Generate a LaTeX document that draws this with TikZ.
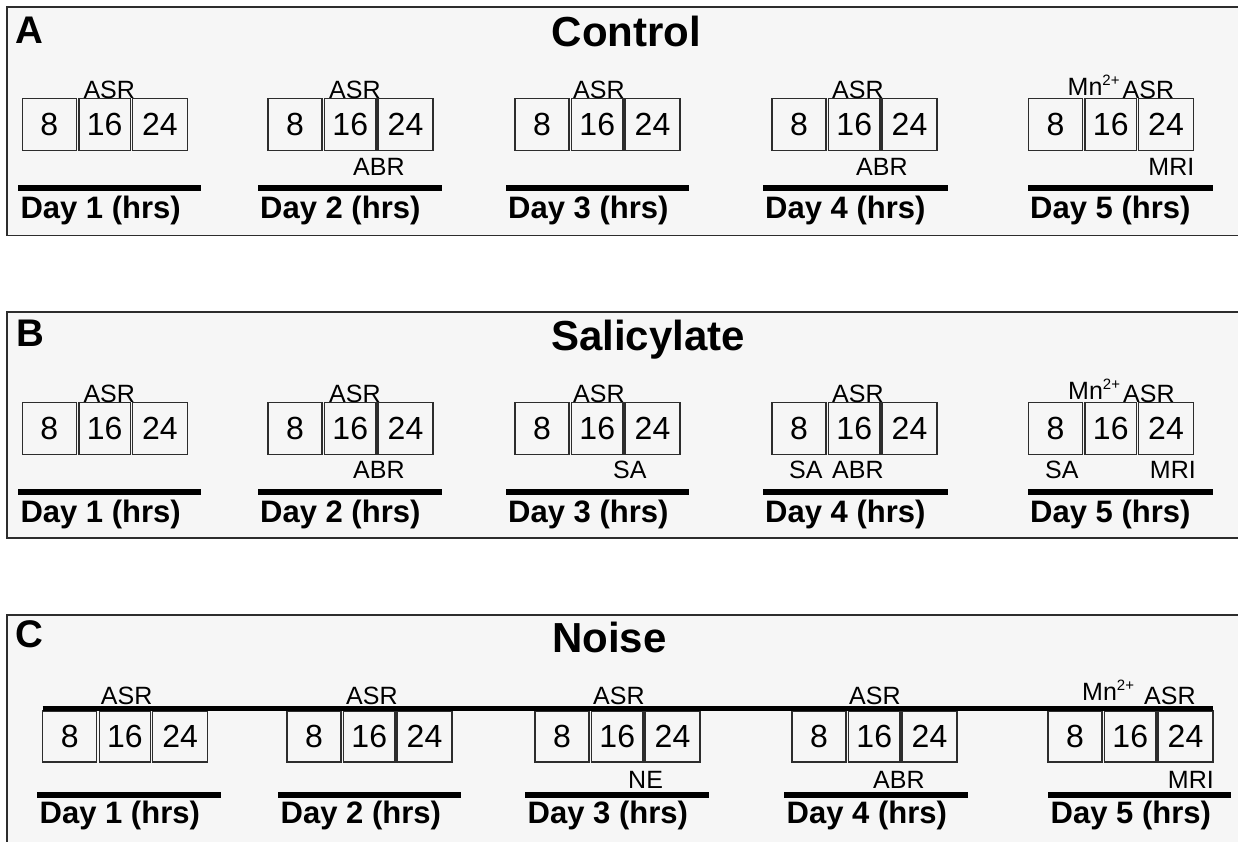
\documentclass[tikz,border=0pt]{standalone}
\usepackage{fontspec}
\setmainfont{Liberation Sans}
\usetikzlibrary{calc}
\definecolor{panelbg}{RGB}{246,246,246}
\definecolor{edge}{RGB}{45,45,45}
\tikzset{
 panel/.style={draw=edge, line width=1.8pt, fill=panelbg},
 hbox/.style={draw=edge, line width=1.4pt, inner sep=0pt, outer sep=0pt, anchor=north west, font=\fontsize{32}{36}\selectfont},
 lab/.style={inner sep=0pt, anchor=base west, font=\fontsize{25}{28}\selectfont},
 labr/.style={lab, anchor=base east},
 dayline/.style={line width=6pt, black},
 noiseline/.style={line width=5pt, black},
 daylab/.style={inner sep=0pt, anchor=base west, font=\fontsize{31}{34}\selectfont\bfseries},
 plabel/.style={inner sep=0pt, anchor=base west, font=\fontsize{38.5}{42}\selectfont\bfseries},
 ptitle/.style={inner sep=0pt, anchor=base west, font=\fontsize{42}{46}\selectfont\bfseries},
}
\newcommand\mnsup{Mn\raisebox{10.5pt}{\fontsize{15}{16}\selectfont 2+}}
\begin{document}
\begin{tikzpicture}[x=1pt,y=-1pt]
\useasboundingbox (0,0) rectangle (1238,841);
\clip (0,0) rectangle (1238,841);
\fill[white] (0,0) rectangle (1238,841);
% panels
\draw[panel] (7.3,7.3) rectangle (1250,235.5);
\draw[panel] (7.3,311.7) rectangle (1250,538.3);
\draw[panel] (7.3,615) rectangle (1250,870);
\node[plabel] (lblA) at (15,43) {A};
\node[plabel] (lblB) at (16.5,346.5) {B};
\node[plabel] (lblC) at (15,647.5) {C};
\node[ptitle] (ttlA) at (551.5,46) {Control};
\node[ptitle] (ttlB) at (551,350.5) {Salicylate};
\node[ptitle] (ttlC) at (552,652) {Noise};
% panel A days
\foreach \id/\xo/\ll/\lr/\dn/\ao in {A1/22.3/18.3/201/1/61, A2/268/258/442/2/61, A3/515/506/689/3/58, A4/772/763/948/4/60, A5/1028.5/1028/1213/5/94}{
  \node[hbox, minimum width=54, minimum height=52.4] (\id-b1) at (\xo,98.3) {8};
  \node[hbox, minimum width=51.5, minimum height=52.4] (\id-b2) at (\xo+56.5,98.3) {16};
  \node[hbox, minimum width=55, minimum height=52.4] (\id-b3) at (\xo+110,98.3) {24};
  \node[lab] (\id-asr) at (\xo+\ao,98.3) {ASR};
  \coordinate (\id-l) at (\ll,187.5);
  \coordinate (\id-r) at (\lr,187.5);
  \draw[dayline] (\id-l) -- (\id-r);
  \node[daylab] (\id-d) at (\ll+2,218.3) {Day \dn{} (hrs)};
}
\node[lab] (A2-abr) at (353,175) {ABR};
\node[lab] (A4-abr) at (856,175) {ABR};
\node[labr] (A5-mri) at (1194.5,175) {MRI};
\node[lab] (A5-mn) at (1067.5,95.5) {\mnsup};
% panel B days
\foreach \id/\xo/\ll/\lr/\dn/\ao in {B1/22.3/18.3/201/1/61, B2/268/258/442/2/61, B3/515/506/689/3/58, B4/772/763/948/4/60, B5/1028.5/1028/1213/5/94.5}{
  \node[hbox, minimum width=54, minimum height=52.4] (\id-b1) at (\xo,402.3) {8};
  \node[hbox, minimum width=51.5, minimum height=52.4] (\id-b2) at (\xo+56.5,402.3) {16};
  \node[hbox, minimum width=55, minimum height=52.4] (\id-b3) at (\xo+110,402.3) {24};
  \node[lab] (\id-asr) at (\xo+\ao,402.3) {ASR};
  \coordinate (\id-l) at (\ll,491.5);
  \coordinate (\id-r) at (\lr,491.5);
  \draw[dayline] (\id-l) -- (\id-r);
  \node[daylab] (\id-d) at (\ll+2,522.3) {Day \dn{} (hrs)};
}
\node[lab] (B2-abr) at (353,478.5) {ABR};
\node[lab] (B3-sa) at (613,478.5) {SA};
\node[lab] (B4-sa) at (789,478.5) {SA};
\node[lab] (B4-abr) at (832,478.5) {ABR};
\node[lab] (B5-sa) at (1045,478.5) {SA};
\node[labr] (B5-mri) at (1196,478.5) {MRI};
\node[lab] (B5-mn) at (1068,399.5) {\mnsup};
% panel C days
\foreach \id/\xo/\ll/\lr/\dn/\ao in {C1/42.7/37/221/1/58, C2/287/278/461/2/59, C3/535/525/709/3/58, C4/792/784/968/4/57, C5/1048/1048/1231/5/96}{
  \node[hbox, minimum width=54, minimum height=51] (\id-b1) at (\xo,711) {8};
  \node[hbox, minimum width=51.5, minimum height=51] (\id-b2) at (\xo+56.5,711) {16};
  \node[hbox, minimum width=55, minimum height=51] (\id-b3) at (\xo+110,711) {24};
  \node[lab] (\id-asr) at (\xo+\ao,704) {ASR};
  \coordinate (\id-l) at (\ll,795);
  \coordinate (\id-r) at (\lr,795);
  \draw[dayline] (\id-l) -- (\id-r);
  \node[daylab] (\id-d) at (\ll+2.5,823) {Day \dn{} (hrs)};
}
\draw[noiseline] ($(C1-b1.north west)+(0,-2.6)$) -- ($(C5-b3.north east)+(0,-2.6)$);
\node[lab] (C3-ne) at (628,788) {NE};
\node[lab] (C4-abr) at (873,788) {ABR};
\node[labr] (C5-mri) at (1214,788) {MRI};
\node[lab] (C5-mn) at (1082,700.5) {\mnsup};
\end{tikzpicture}
\end{document}
